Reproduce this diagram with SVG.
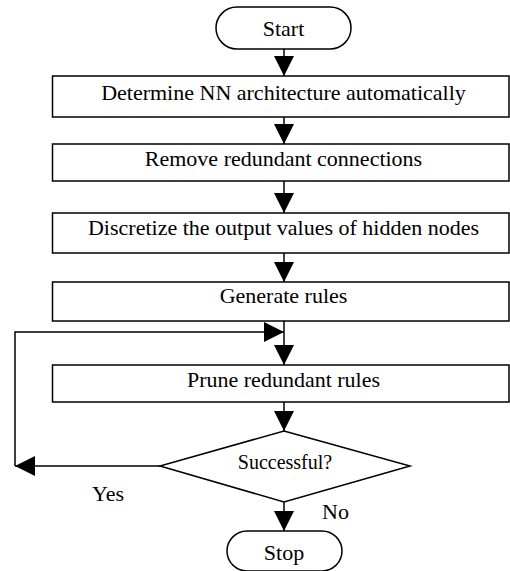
<svg xmlns="http://www.w3.org/2000/svg" width="510" height="571" viewBox="0 0 510 571">
<defs>
<style>
.s{fill:#fff;stroke:#000;stroke-width:1.5}
.l{fill:none;stroke:#000;stroke-width:1.5}
text{font-family:"Liberation Serif",serif;font-size:22px;fill:#000}
.c{text-anchor:middle}
</style>
<marker id="ah" viewBox="0 0 20 20" refX="20" refY="10" markerWidth="20" markerHeight="20" markerUnits="userSpaceOnUse" orient="auto">
<path d="M0,0 L20,10 L0,20 Z" fill="#000"/>
</marker>
</defs>
<g id="connectors">
<line class="l" x1="284" y1="49" x2="284" y2="76" marker-end="url(#ah)"/>
<line class="l" x1="284" y1="117" x2="284" y2="144" marker-end="url(#ah)"/>
<line class="l" x1="284" y1="181" x2="284" y2="213" marker-end="url(#ah)"/>
<line class="l" x1="284" y1="253" x2="284" y2="282" marker-end="url(#ah)"/>
<line class="l" x1="284" y1="321" x2="284" y2="365" marker-end="url(#ah)"/>
<polyline class="l" points="15,466 15,332 284,332" marker-end="url(#ah)"/>
<line class="l" x1="284" y1="402" x2="284" y2="431" marker-end="url(#ah)"/>
<line class="l" x1="160" y1="466" x2="15" y2="466" marker-end="url(#ah)"/>
<line class="l" x1="284" y1="502" x2="284" y2="531" marker-end="url(#ah)"/>
<text x="92" y="501">Yes</text>
<text x="322" y="519">No</text>
</g>
<g id="start">
<rect class="s" x="216" y="7" width="135" height="42" rx="21" ry="21"/>
<text class="c" x="283.5" y="36">Start</text>
</g>
<g id="determine">
<rect class="s" x="52.5" y="76" width="456.5" height="41"/>
<text class="c" x="283.5" y="100">Determine NN architecture automatically</text>
</g>
<g id="remove">
<rect class="s" x="52.5" y="144" width="456.5" height="37"/>
<text class="c" x="283.5" y="166">Remove redundant connections</text>
</g>
<g id="discretize">
<rect class="s" x="52.5" y="213" width="456.5" height="40"/>
<text class="c" x="283.5" y="235">Discretize the output values of hidden nodes</text>
</g>
<g id="generate">
<rect class="s" x="52.5" y="282" width="456.5" height="39"/>
<text class="c" x="283.5" y="303">Generate rules</text>
</g>
<g id="prune">
<rect class="s" x="52.5" y="365" width="456.5" height="37"/>
<text class="c" x="283.5" y="387">Prune redundant rules</text>
</g>
<g id="decision">
<polygon class="s" points="284,431 410,466 284,502 160,466"/>
<text class="c" x="285" y="469" style="font-size:20px">Successful?</text>
</g>
<g id="stop">
<rect class="s" x="227" y="531" width="115" height="40" rx="20" ry="20"/>
<text class="c" x="284" y="560">Stop</text>
</g>
</svg>
